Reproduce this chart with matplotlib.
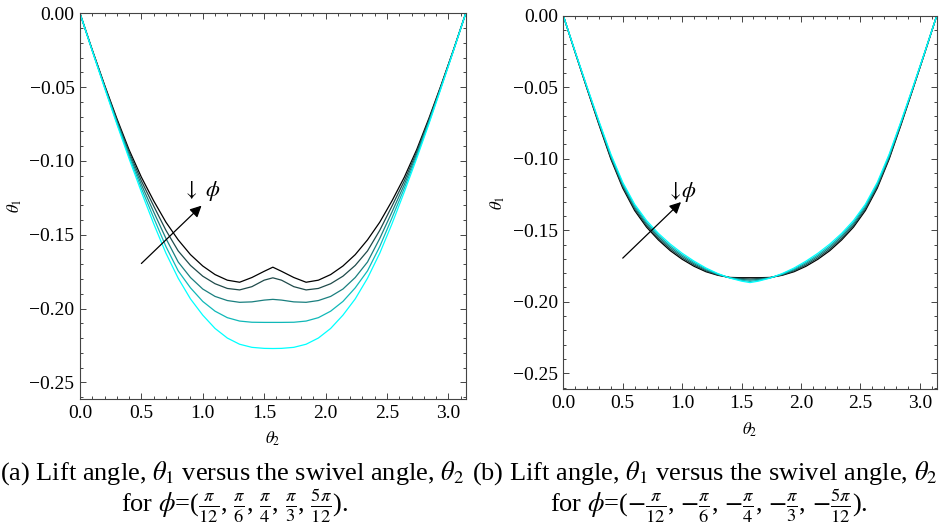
import matplotlib
matplotlib.use("Agg")
import matplotlib.pyplot as plt
from matplotlib.ticker import MultipleLocator

plt.rcParams["font.family"] = ["Liberation Serif", "DejaVu Serif"]
plt.rcParams["mathtext.fontset"] = "stix"

# swivel angle theta_2 (rad)
theta2 = [0.0, 0.1, 0.2, 0.3, 0.4, 0.5, 0.6, 0.7, 0.8, 0.9, 1.0, 1.1, 1.2, 1.3, 1.4, 1.5,
          1.5708,
          1.6416, 1.7416, 1.8416, 1.9416, 2.0416, 2.1416, 2.2416, 2.3416, 2.4416, 2.5416,
          2.6416, 2.7416, 2.8416, 2.9416, 3.0416, 3.1416]

# (a) phi = pi/12, pi/6, pi/4, pi/3, 5pi/12 (black -> cyan)
a_phi1 = [0.0, -0.0248, -0.0485, -0.0712, -0.0925, -0.1110, -0.1270, -0.1415, -0.1535, -0.1635,
          -0.1712, -0.1770, -0.1808, -0.1822, -0.1790, -0.1748, -0.1720, -0.1748, -0.1790, -0.1822,
          -0.1808, -0.1770, -0.1712, -0.1635, -0.1535, -0.1415, -0.1270, -0.1110, -0.0925, -0.0712,
          -0.0485, -0.0248, 0.0]
a_phi2 = [0.0, -0.0250, -0.0490, -0.0722, -0.0940, -0.1135, -0.1305, -0.1470, -0.1610, -0.1708,
          -0.1781, -0.1832, -0.1864, -0.1874, -0.1852, -0.1808, -0.1792, -0.1808, -0.1852, -0.1874,
          -0.1864, -0.1832, -0.1781, -0.1708, -0.1610, -0.1470, -0.1305, -0.1135, -0.0940, -0.0722,
          -0.0490, -0.0250, 0.0]
a_phi3 = [0.0, -0.0251, -0.0495, -0.0732, -0.0955, -0.1160, -0.1345, -0.1525, -0.1685, -0.1790,
          -0.1868, -0.1918, -0.1946, -0.1958, -0.1955, -0.1943, -0.1938, -0.1943, -0.1955, -0.1958,
          -0.1946, -0.1918, -0.1868, -0.1790, -0.1685, -0.1525, -0.1345, -0.1160, -0.0955, -0.0732,
          -0.0495, -0.0251, 0.0]
a_phi4 = [0.0, -0.0253, -0.0500, -0.0741, -0.0970, -0.1185, -0.1385, -0.1580, -0.1745, -0.1860,
          -0.1952, -0.2018, -0.2062, -0.2085, -0.2093, -0.2094, -0.2094, -0.2094, -0.2093, -0.2085,
          -0.2062, -0.2018, -0.1952, -0.1860, -0.1745, -0.1580, -0.1385, -0.1185, -0.0970, -0.0741,
          -0.0500, -0.0253, 0.0]
a_phi5 = [0.0, -0.0255, -0.0505, -0.0750, -0.0985, -0.1210, -0.1425, -0.1625, -0.1795, -0.1935,
          -0.2045, -0.2135, -0.2200, -0.2242, -0.2263, -0.2270, -0.2271, -0.2270, -0.2263, -0.2242,
          -0.2200, -0.2135, -0.2045, -0.1935, -0.1795, -0.1625, -0.1425, -0.1210, -0.0985, -0.0750,
          -0.0505, -0.0255, 0.0]

# (b) phi = -pi/12, -pi/6, -pi/4, -pi/3, -5pi/12 (black -> cyan)
b_phi1 = [0.0, -0.0258, -0.0512, -0.0762, -0.1002, -0.1205, -0.1362, -0.1478, -0.1568, -0.1643,
          -0.1703, -0.1752, -0.1790, -0.1815, -0.1830, -0.1832, -0.1832, -0.1832, -0.1830, -0.1815,
          -0.1790, -0.1752, -0.1703, -0.1643, -0.1568, -0.1478, -0.1362, -0.1205, -0.1002, -0.0762,
          -0.0512, -0.0258, 0.0]
b_phi2 = [0.0, -0.0257, -0.0509, -0.0756, -0.0994, -0.1195, -0.1351, -0.1467, -0.1557, -0.1632,
          -0.1693, -0.1743, -0.1784, -0.1812, -0.1831, -0.1838, -0.1841, -0.1838, -0.1831, -0.1812,
          -0.1784, -0.1743, -0.1693, -0.1632, -0.1557, -0.1467, -0.1351, -0.1195, -0.0994, -0.0756,
          -0.0509, -0.0257, 0.0]
b_phi3 = [0.0, -0.0255, -0.0505, -0.0750, -0.0985, -0.1185, -0.1340, -0.1455, -0.1545, -0.1620,
          -0.1682, -0.1734, -0.1777, -0.1809, -0.1832, -0.1844, -0.1849, -0.1844, -0.1832, -0.1809,
          -0.1777, -0.1734, -0.1682, -0.1620, -0.1545, -0.1455, -0.1340, -0.1185, -0.0985, -0.0750,
          -0.0505, -0.0255, 0.0]
b_phi4 = [0.0, -0.0254, -0.0502, -0.0744, -0.0977, -0.1175, -0.1329, -0.1444, -0.1534, -0.1609,
          -0.1672, -0.1725, -0.1771, -0.1806, -0.1833, -0.1850, -0.1858, -0.1850, -0.1833, -0.1806,
          -0.1771, -0.1725, -0.1672, -0.1609, -0.1534, -0.1444, -0.1329, -0.1175, -0.0977, -0.0744,
          -0.0502, -0.0254, 0.0]
b_phi5 = [0.0, -0.0252, -0.0498, -0.0738, -0.0968, -0.1165, -0.1318, -0.1432, -0.1522, -0.1597,
          -0.1661, -0.1716, -0.1764, -0.1803, -0.1834, -0.1856, -0.1866, -0.1856, -0.1834, -0.1803,
          -0.1764, -0.1716, -0.1661, -0.1597, -0.1522, -0.1432, -0.1318, -0.1165, -0.0968, -0.0738,
          -0.0498, -0.0252, 0.0]

colors = ["#000000", "#1f4a4a", "#1a7f7f", "#10b8b8", "#00ffff"]

fig = plt.figure(figsize=(9.42, 5.32), dpi=100)
ax_a = fig.add_axes([0.0849, 0.250, 0.4095, 0.725])
ax_b = fig.add_axes([0.5980, 0.268, 0.3964, 0.7025])

panels = [
    (ax_a, [a_phi1, a_phi2, a_phi3, a_phi4, a_phi5], r"$\downarrow\ \phi$", -0.1205,
     r"(a) Lift angle, $\theta_1$ versus the swivel angle, $\theta_2$",
     r"for $\phi$=($\frac{\pi}{12}$, $\frac{\pi}{6}$, $\frac{\pi}{4}$, $\frac{\pi}{3}$, $\frac{5\pi}{12}$).",
     0.0, 0.2495),
    (ax_b, [b_phi1, b_phi2, b_phi3, b_phi4, b_phi5], r"$\downarrow\!\phi$", -0.1235,
     r"(b) Lift angle, $\theta_1$ versus the swivel angle, $\theta_2$",
     r"for $\phi$=($-\frac{\pi}{12}$, $-\frac{\pi}{6}$, $-\frac{\pi}{4}$, $-\frac{\pi}{3}$, $-\frac{5\pi}{12}$).",
     0.501, 0.752),
]

for ax, series, lab, lab_y, cap1, cap2, cap1_x, cap2_x in panels:
    for ys, c in zip(series, colors):
        ax.plot(theta2, ys, color=c, lw=0.9)
    ax.set_xlim(0, 3.1416)
    ax.set_ylim(-0.2613, 0)
    ax.xaxis.set_major_locator(MultipleLocator(0.5))
    ax.xaxis.set_minor_locator(MultipleLocator(0.1))
    ax.yaxis.set_major_locator(MultipleLocator(0.05))
    ax.yaxis.set_minor_locator(MultipleLocator(0.01))
    ax.yaxis.set_major_formatter(lambda v, p: f"{v:.2f}".replace("-", "\u2212"))
    ax.xaxis.set_major_formatter(lambda v, p: f"{v:.1f}")
    ax.tick_params(which="both", direction="in", top=True, right=True, color="#444444",
                   labelsize=14, width=0.7)
    ax.tick_params(which="major", length=4, pad=4)
    ax.tick_params(which="minor", length=2)
    for s in ax.spines.values():
        s.set_color("#444444")
        s.set_linewidth(0.8)
    ax.set_xlabel(r"$\theta_2$", fontsize=12, labelpad=6)
    ax.set_ylabel(r"$\theta_1$", fontsize=12, labelpad=4)

    ax.annotate("", xy=(0.99, -0.1303), xytext=(0.5, -0.1695),
                arrowprops=dict(arrowstyle="-|>", color="black", lw=0.9,
                                mutation_scale=17, shrinkA=0, shrinkB=0))
    ax.text(0.99, lab_y, lab, fontsize=16, ha="center", va="center")

    fig.text(cap1_x, 0.098, cap1, fontsize=19, ha="left", va="baseline")
    fig.text(cap2_x, 0.037, cap2, fontsize=19, ha="center", va="baseline")

fig.savefig("out.png", dpi=100, facecolor="white")
